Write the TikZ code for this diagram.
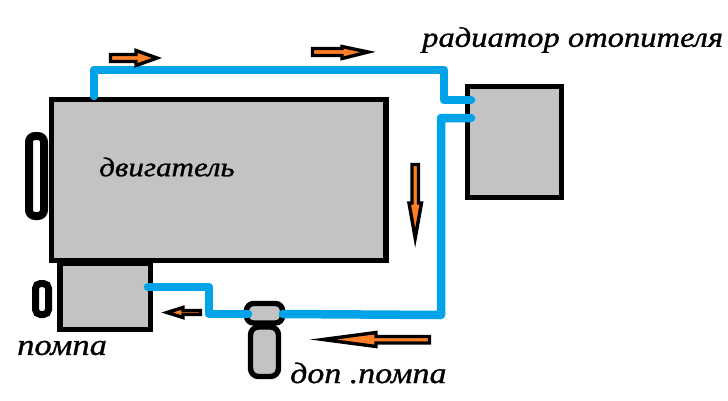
\documentclass[tikz,border=0pt]{standalone}
\usepackage{fontspec}
\newfontfamily\hand[FakeStretch=1.15,FakeBold=1]{Liberation Serif}
\definecolor{boxgray}{HTML}{C3C3C3}
\definecolor{pipeblue}{HTML}{00A2E8}
\definecolor{floworange}{HTML}{FF7F27}
\tikzset{
  unitbox/.style={draw=black,fill=boxgray,line width=5.4pt},
  pipe/.style={draw=pipeblue,line width=8.5pt,line cap=round,line join=round},
  flow/.style={draw=black,fill=floworange,line width=3.4pt,line join=miter,miter limit=10},
  pulley/.style={draw=black,fill=white,line width=8pt,rounded corners=6pt},
  lbl/.style={font=\hand\itshape\fontsize{#1}{#1}\selectfont,inner sep=0pt,text=black,anchor=west}
}
\begin{document}
\begin{tikzpicture}[x=1pt,y=-1pt]
\useasboundingbox (0,0) rectangle (728,400);
% units
\draw[unitbox] (51.5,99.5) rectangle (386,260.5);
\coordinate (eTop) at (94,96);
\draw[unitbox] (60,263) rectangle (150.5,329.5);
\coordinate (pRight) at (148,287);
\draw[unitbox] (467.5,86.5) rectangle (561.5,197.5);
\coordinate (rIn) at (471,100);
\coordinate (rOut) at (471,118);
\draw[unitbox,rounded corners=8pt] (250.5,327) rectangle (278.5,376.5);
\draw[unitbox,rounded corners=7pt] (246.5,303.5) rectangle (282.5,323);
\coordinate (dL) at (248,314);
\coordinate (dR) at (283,314);
% pulleys
\draw[pulley] (29,136) rectangle (44,216);
\draw[pulley,line width=7pt,rounded corners=5pt] (35.5,283.5) rectangle (48.5,314.5);
% pipes
\coordinate (a1) at (94,70);
\coordinate (a2) at (444,70);
\coordinate (a3) at (444,100);
\coordinate (b1) at (441,118);
\coordinate (b2) at (441,315);
\coordinate (c1) at (209,314);
\coordinate (c2) at (209,287);
\draw[pipe] (eTop) -- (a1) -- (a2) -- (a3) -- (rIn);
\draw[pipe] (rOut) -- (b1) -- (b2) -- (dR);
\draw[pipe] (dL) -- (c1) -- (c2) -- (pRight);
% flow arrows
\draw[flow] (110.5,54.5) -- (136,54.5) -- (136,50.5) -- (157,58) -- (136,65.5) -- (136,61.5) -- (110.5,61.5) -- cycle;
\draw[flow] (312.5,48.5) -- (342,48.5) -- (342,46.5) -- (368,52) -- (342,58.5) -- (342,55.5) -- (312.5,55.5) -- cycle;
\draw[flow] (412,164.5) -- (418.5,164.5) -- (418.5,203) -- (421.5,203) -- (415.2,238) -- (409,203) -- (412,203) -- cycle;
\draw[flow] (429.5,336.5) -- (429.5,343) -- (376,343) -- (376,346.5) -- (323,339.5) -- (376,332.5) -- (376,336.5) -- cycle;
\draw[flow] (200.5,310.5) -- (200.5,314.5) -- (183,314.5) -- (183,317.5) -- (167,312.5) -- (183,307.5) -- (183,310.5) -- cycle;
% labels
\node[lbl=27] (engine) at (99,167) {двигатель};
\node[lbl=28.3] (radiator) at (422,40) {радиатор отопителя};
\node[lbl=30] (pump) at (17,348) {помпа};
\node[lbl=29.5] (extra) at (290,373) {доп .помпа};
\end{tikzpicture}
\end{document}
